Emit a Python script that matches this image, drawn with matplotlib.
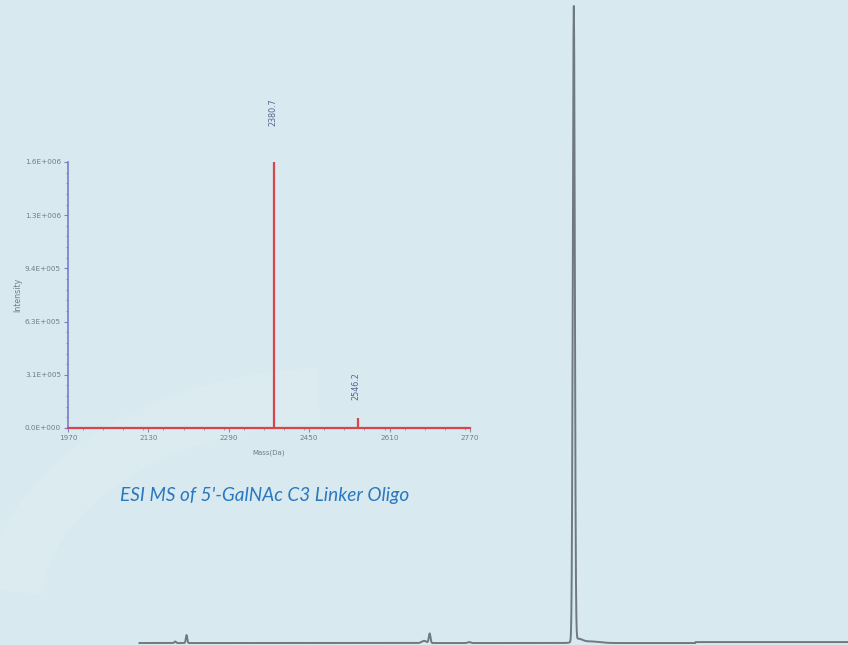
import numpy as np
import matplotlib
matplotlib.use("Agg")
import matplotlib.pyplot as plt
from matplotlib.ticker import MultipleLocator

# HPLC chromatogram (retention time in minutes, absorbance in arbitrary units)
run_start, run_end = 4.9, 30.0
hplc_peak_times = [6.2, 6.6, 15.0, 15.2, 16.6, 20.3, 20.45, 20.9]
hplc_peak_heights = [2.5, 12.5, 3.5, 15.0, 1.5, 1000.0, 6.0, 2.5]
hplc_peak_widths = [0.03, 0.025, 0.08, 0.03, 0.05, 0.035, 0.15, 0.3]
baseline_step_time = 24.6
baseline_step_height = 1.5

# ESI MS spectrum (deconvoluted mass, intensity)
ms_masses = [2380.7, 2546.2]
ms_intensities = [1.58e6, 6.0e4]
ms_labels = ["2380.7", "2546.2"]
mass_ticks = [1970, 2130, 2290, 2450, 2610, 2770]
intensity_ticks = [0, 3.14e5, 6.28e5, 9.42e5, 1.256e6, 1.57e6]
intensity_tick_labels = ["0.0E+000", "3.1E+005", "6.3E+005", "9.4E+005",
                         "1.3E+006", "1.6E+006"]

bg = "#d8e9ef"
fig = plt.figure(figsize=(8.48, 6.45), dpi=100, facecolor=bg)

# --- chromatogram over the whole page ---
ax = fig.add_axes([0, 0, 1, 1])
ax.set_facecolor(bg)

# faint decorative swoosh in the lower-left
theta = np.linspace(np.pi * 0.52, np.pi * 0.98, 200)
arc_x = 12.0 + 11.5 * np.cos(theta)
arc_y = 60 + 330 * np.sin(theta)
ax.plot(arc_x, arc_y, color="white", alpha=0.12, lw=40, solid_capstyle="butt")

t = np.linspace(run_start, run_end, 6000)
signal = np.where(t > baseline_step_time, baseline_step_height, 0.0)
for t0, h, w in zip(hplc_peak_times, hplc_peak_heights, hplc_peak_widths):
    signal = signal + h * np.exp(-0.5 * ((t - t0) / w) ** 2)
ax.plot(t, signal, color="#6f7a80", lw=1.4, solid_capstyle="butt")
ax.set_xlim(0, 30)
ax.set_ylim(-3.1, 1012.6)
ax.axis("off")

fig.text(120 / 848, 1 - 496 / 645, "ESI MS of 5'-GalNAc C3 Linker Oligo",
         color="#2a78c0", fontsize=13.7, fontstyle="italic", family="Lato",
         va="center", ha="left")

# --- inset mass spectrum ---
red = "#d8454c"
axin = fig.add_axes([68 / 848, 1 - 428 / 645, 402 / 848, 266 / 645])
axin.patch.set_alpha(0)
axin.vlines(ms_masses, 0, ms_intensities, color=red, lw=1.6)
axin.set_xlim(mass_ticks[0], mass_ticks[-1])
axin.set_ylim(0, intensity_ticks[-1])
axin.set_xticks(mass_ticks)
axin.set_xticklabels([str(m) for m in mass_ticks])
axin.xaxis.set_minor_locator(MultipleLocator(40))
axin.set_yticks(intensity_ticks)
axin.set_yticklabels(intensity_tick_labels)
axin.yaxis.set_minor_locator(MultipleLocator(intensity_ticks[1] / 5))
for s in ("top", "right"):
    axin.spines[s].set_visible(False)
axin.spines["left"].set_color("#7a7ec8")
axin.spines["left"].set_linewidth(1.2)
axin.spines["bottom"].set_color(red)
axin.spines["bottom"].set_linewidth(1.6)
axin.tick_params(axis="both", which="both", labelsize=5.2, labelcolor="#737d84",
                 pad=2)
axin.tick_params(axis="y", which="major", length=3, color="#7a7ec8")
axin.tick_params(axis="y", which="minor", length=1.5, color="#7a7ec8")
axin.tick_params(axis="x", which="major", length=3, color="#8a8ac0")
axin.tick_params(axis="x", which="minor", length=1.5, color="#8a8ac0")
axin.set_xlabel("Mass(Da)", fontsize=5.0, color="#737d84", labelpad=6)
axin.set_ylabel("Intensity", fontsize=5.6, color="#737d84")
axin.yaxis.set_label_coords(-0.115, 0.5)
label_gaps = [25, 13]
for m, i, lab, gap in zip(ms_masses, ms_intensities, ms_labels, label_gaps):
    axin.annotate(lab, (m, i), xytext=(-1, gap), textcoords="offset points",
                  rotation=90, ha="center", va="bottom", fontsize=5.8,
                  color="#5a6290", annotation_clip=False)

fig.savefig("out.png", dpi=100, facecolor=bg)
